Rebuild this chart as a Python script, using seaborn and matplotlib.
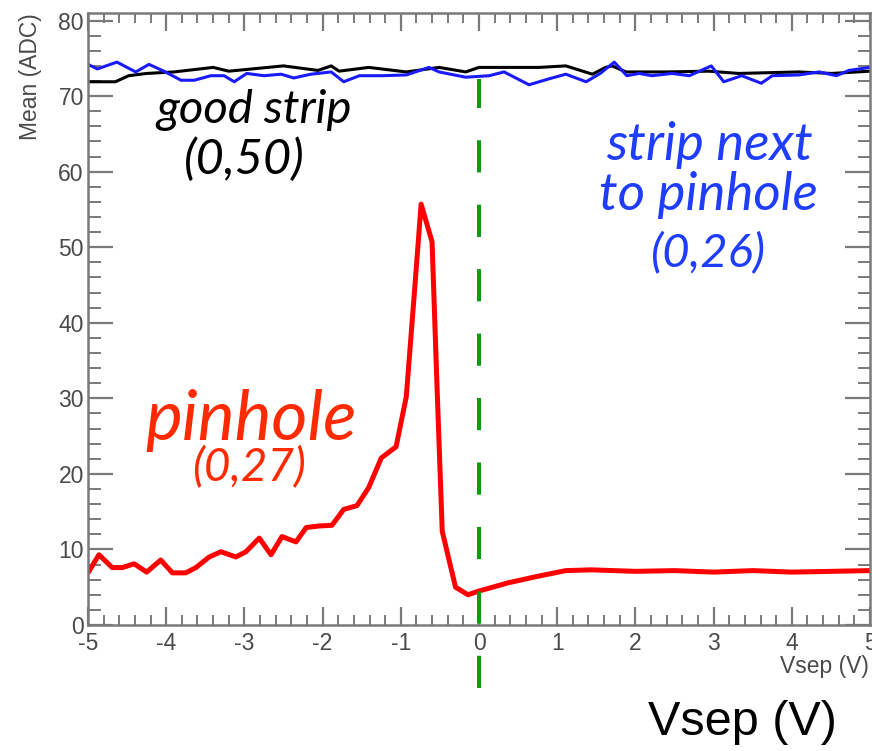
import matplotlib
matplotlib.use("Agg")
import matplotlib.pyplot as plt
import seaborn as sns
import numpy as np
from matplotlib.ticker import MultipleLocator

# ---------------- data ----------------
pin_x = [-5.0, -4.86, -4.69, -4.56, -4.41, -4.25, -4.07, -3.92, -3.75, -3.62,
         -3.45, -3.30, -3.11, -2.98, -2.81, -2.66, -2.52, -2.34, -2.21, -2.05,
         -1.88, -1.73, -1.56, -1.41, -1.25, -1.06, -0.93, -0.83, -0.74, -0.60,
         -0.54, -0.47, -0.30, -0.14, 0.0, 0.38, 0.73, 1.11, 1.44, 2.0, 2.5,
         3.0, 3.5, 4.0, 4.5, 5.0]
pin_y = [6.9, 9.3, 7.6, 7.6, 8.1, 7.0, 8.6, 6.9, 6.9, 7.6,
         9.0, 9.7, 9.0, 9.7, 11.5, 9.3, 11.7, 11.0, 12.9, 13.1,
         13.2, 15.3, 15.8, 18.2, 22.1, 23.6, 30.2, 43.5, 55.7, 50.7,
         32.5, 12.4, 5.0, 4.0, 4.5, 5.6, 6.4, 7.2, 7.3, 7.1, 7.2,
         7.0, 7.2, 7.0, 7.1, 7.2]

good_x = [-5.0, -4.65, -4.48, -4.25, -3.9, -3.4, -3.2, -2.5, -2.06, -1.89,
          -1.79, -1.41, -0.93, -0.51, -0.17, 0.0, 0.77, 1.11, 1.45, 1.62,
          1.70, 1.88, 2.39, 2.94, 3.32, 4.09, 4.51, 5.0]
good_y = [71.9, 71.9, 72.7, 73.0, 73.2, 73.8, 73.3, 74.0, 73.4, 74.0,
          73.3, 73.8, 73.2, 73.8, 73.2, 73.8, 73.8, 74.0, 72.9, 73.8,
          74.0, 73.2, 73.2, 73.3, 73.0, 73.2, 73.0, 73.3]

next_x = [-5.0, -4.88, -4.63, -4.39, -4.22, -4.03, -3.81, -3.64, -3.43, -3.26,
          -3.13, -2.97, -2.75, -2.53, -2.37, -2.15, -1.89, -1.73, -1.53, -1.24,
          -0.93, -0.64, -0.51, -0.17, 0.13, 0.32, 0.64, 0.90, 1.11, 1.37,
          1.55, 1.73, 1.89, 2.05, 2.21, 2.47, 2.69, 2.97, 3.13, 3.36,
          3.61, 3.75, 4.09, 4.35, 4.57, 4.73, 5.0]
next_y = [74.2, 73.6, 74.5, 73.2, 74.2, 73.3, 72.1, 72.1, 72.7, 72.7,
          71.9, 73.0, 72.7, 72.9, 72.4, 72.9, 73.2, 71.9, 72.7, 72.7,
          72.8, 73.8, 73.2, 72.5, 72.7, 73.2, 71.5, 72.3, 72.9, 71.9,
          73.0, 74.5, 72.7, 73.0, 72.7, 73.0, 72.7, 74.0, 71.9, 72.7,
          71.7, 72.7, 72.8, 73.2, 72.7, 73.4, 73.8]

x_ticks = [-5, -4, -3, -2, -1, 0, 1, 2, 3, 4, 5]
y_ticks = [0, 10, 20, 30, 40, 50, 60, 70, 80]

# ---------------- figure ----------------
sns.set_style("ticks")
plt.rcParams['font.family'] = ['Liberation Sans', 'DejaVu Sans']
plt.rcParams['axes.unicode_minus'] = False

fig = plt.figure(figsize=(8.72, 7.51), dpi=100)
ax = fig.add_axes([88/872, 1-625/751, 782/872, (625-13)/751])

sns.lineplot(x=good_x, y=good_y, color="black", lw=2.2, ax=ax, estimator=None, sort=False)
sns.lineplot(x=next_x, y=next_y, color="#1a1aff", lw=2.2, ax=ax, estimator=None, sort=False)
sns.lineplot(x=pin_x, y=pin_y, color="#ff0000", lw=3.6, ax=ax, estimator=None, sort=False)

ax.vlines(0, -8.35, 72.25, colors="#119911", lw=2.9, linestyles=(0, (8, 8)),
          clip_on=False, zorder=5)

ax.set_xlim(-5, 5)
ax.set_ylim(0, 81)
ax.set_xticks(x_ticks)
ax.set_yticks(y_ticks)
ax.xaxis.set_minor_locator(MultipleLocator(0.2))
ax.yaxis.set_minor_locator(MultipleLocator(2))
axis_gray = "#7a7a7a"
ax.tick_params(axis='both', which='both', direction='in', top=True, right=True,
               color=axis_gray, labelcolor="#4a4a4a", labelsize=16.5)
ax.tick_params(axis='x', which='major', length=13, width=1.6, pad=5)
ax.tick_params(axis='x', which='minor', length=7, width=1.4)
ax.tick_params(axis='y', which='major', length=18, width=1.6, pad=3)
ax.tick_params(axis='y', which='minor', length=9, width=1.4)
for s in ax.spines.values():
    s.set_color(axis_gray)
    s.set_linewidth(1.8)

ax.set_xlabel("")
ax.set_ylabel("")
fig.text(30/872, 1-13/751, "Mean (ADC)", rotation=90, ha='center', va='top',
         fontsize=16.5, color="#4a4a4a")
fig.text(780/872, 1-673/751, "Vsep (V)", ha='left', va='baseline',
         fontsize=16.5, color="#4a4a4a")
fig.text(742/872, 1-735/751, "Vsep (V)", ha='center', va='baseline',
         fontsize=35, color="black")

ann = dict(family=['Lato', 'DejaVu Sans'], style='italic', ha='center', va='baseline')
ax.text(-2.88, 66.5, "good strip", fontsize=34, color="black", **ann)
ax.text(-3.0, 59.7, "(0,50)", fontsize=35, color="black", **ann)
ax.text(2.95, 61.6, "strip next", fontsize=38, color="#1f3dff", **ann)
ax.text(2.94, 54.9, "to pinhole", fontsize=38, color="#1f3dff", **ann)
ax.text(2.94, 47.5, "(0,26)", fontsize=34, color="#1f3dff", **ann)
ax.text(-2.91, 24.5, "pinhole", fontsize=50, color="#ff2a00", **ann)
ax.text(-2.94, 19.2, "(0,27)", fontsize=33, color="#ff2a00", **ann)

fig.savefig("out.png", dpi=100)
